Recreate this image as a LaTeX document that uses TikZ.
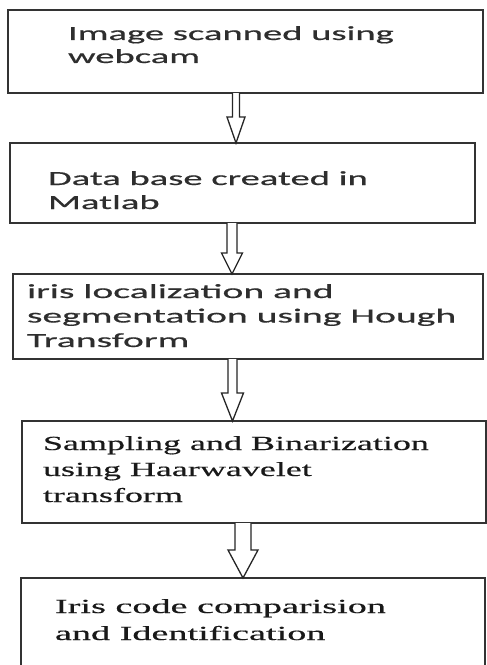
\documentclass[tikz,border=0pt]{standalone}
\usepackage{fontspec}
\usetikzlibrary{calc}
\newfontfamily\sansA[FakeStretch=1.93,FakeBold=0.6]{Carlito}
\newfontfamily\sansB[FakeStretch=1.98,FakeBold=0.6]{Carlito}
\newfontfamily\serA[FakeStretch=1.91,FakeBold=0.4]{Liberation Serif}
\newfontfamily\serB[FakeStretch=1.80,FakeBold=0.4]{Liberation Serif}
\tikzset{
  box/.style={draw=black!80, line width=1.8bp, inner sep=0pt, outer sep=0pt, anchor=north west},
  lbl/.style={anchor=base west, inner sep=0pt, outer sep=0pt, text=black!82},
  arr/.style={draw=black!85, line width=1.3bp, fill=white, line join=miter},
}
\newcommand\blockarr[7]{%
  \coordinate (#7s) at (#1,0 |- #2.south);
  \coordinate (#7e) at (#1,0 |- #3.north);
  \draw[arr] ($(#7s)+(-#4,0)$) -- ($(#7e)+(-#4,-#6)$) -- ($(#7e)+(-#5,-#6)$) -- (#7e)
     -- ($(#7e)+(#5,-#6)$) -- ($(#7e)+(#4,-#6)$) -- ($(#7s)+(#4,0)$);
}
\begin{document}
\begin{tikzpicture}[x=1bp,y=-1bp]
\useasboundingbox (0,0) rectangle (487,665);
\clip (0,0) rectangle (487,665);
\fill[white] (0,0) rectangle (487,665);
\node[box, minimum width=475bp, minimum height=83bp] (b1) at (8,10) {};
\node[box, minimum width=465bp, minimum height=80bp] (b2) at (10,143) {};
\node[box, minimum width=470bp, minimum height=85bp] (b3) at (13,274) {};
\node[box, minimum width=464bp, minimum height=102bp] (b4) at (22,421) {};
\node[box, minimum width=464bp, minimum height=130bp] (b5) at (21,578) {};

\node[lbl, font=\sansA\fontsize{20bp}{23bp}\selectfont] (t1) at (68,40)
  {\vtop{\hbox{Image scanned using}\hbox{webcam}}};
\node[lbl, font=\sansA\fontsize{20bp}{24bp}\selectfont] (t2) at (48,185)
  {\vtop{\hbox{Data base created in}\hbox{Matlab}}};
\node[lbl, font=\sansB\fontsize{20bp}{24.5bp}\selectfont] (t3) at (27,298)
  {\vtop{\hbox{iris localization and}\hbox{segmentation using Hough}\hbox{Transform}}};
\node[lbl, text=black!90, font=\serB\fontsize{20bp}{26bp}\selectfont] (t4) at (43,450)
  {\vtop{\hbox{Sampling and Binarization}\hbox{using Haarwavelet}\hbox{transform}}};
\node[lbl, text=black!90, font=\serA\fontsize{20bp}{27bp}\selectfont] (t5) at (55,613)
  {\vtop{\hbox{Iris code comparision}\hbox{and Identification}}};

\blockarr{236}{b1}{b2}{3.5}{9}{26}{a1}
\blockarr{232}{b2}{b3}{5}{10.5}{21}{a2}
\blockarr{232.5}{b3}{b4}{4.5}{11}{28}{a3}
\blockarr{243}{b4}{b5}{8}{15}{28}{a4}
\end{tikzpicture}
\end{document}
